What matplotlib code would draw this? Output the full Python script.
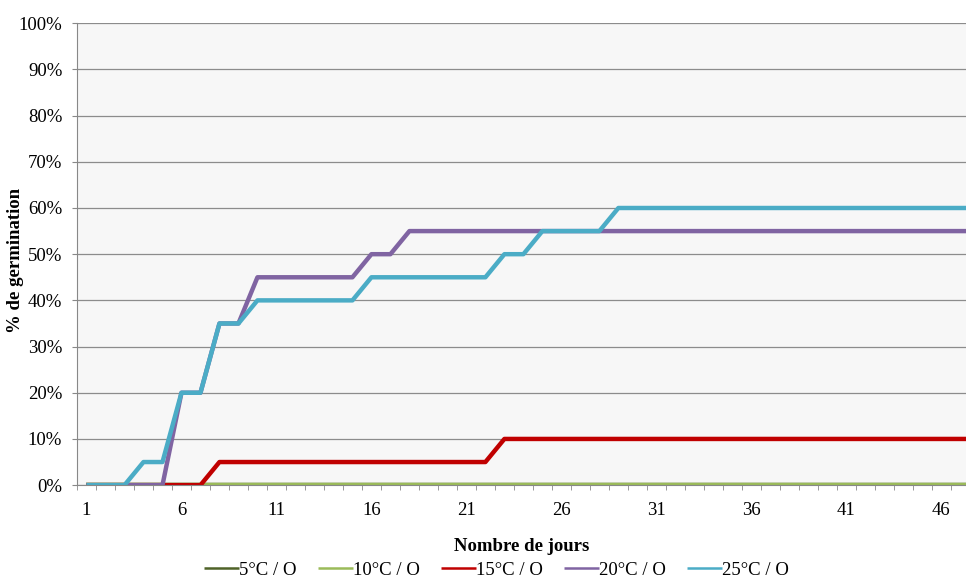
import numpy as np
import matplotlib.pyplot as plt
from matplotlib.ticker import FixedLocator, PercentFormatter

# days 1..48
days = list(range(1, 49))

g5 = [0] * 48
g10 = [0] * 48
g15 = [0, 0, 0, 0, 0, 0, 0, 5, 5, 5, 5, 5, 5, 5, 5, 5, 5, 5, 5, 5, 5, 5,
       10, 10, 10, 10, 10, 10, 10, 10, 10, 10, 10, 10, 10, 10, 10, 10, 10, 10,
       10, 10, 10, 10, 10, 10, 10, 10]
g20 = [0, 0, 0, 0, 0, 20, 20, 35, 35, 45, 45, 45, 45, 45, 45, 50, 50, 55, 55, 55,
       55, 55, 55, 55, 55, 55, 55, 55, 55, 55, 55, 55, 55, 55, 55, 55, 55, 55,
       55, 55, 55, 55, 55, 55, 55, 55, 55, 55]
g25 = [0, 0, 0, 5, 5, 20, 20, 35, 35, 40, 40, 40, 40, 40, 40, 45, 45, 45, 45, 45,
       45, 45, 50, 50, 55, 55, 55, 55, 60, 60, 60, 60, 60, 60, 60, 60, 60, 60,
       60, 60, 60, 60, 60, 60, 60, 60, 60, 60]

labels = ['5°C / O', '10°C / O', '15°C / O', '20°C / O', '25°C / O']
colors = ['#4f6228', '#9bbb59', '#c00000', '#8064a2', '#4bacc6']
series = [g5, g10, g15, g20, g25]

plt.rcParams['font.family'] = ['Liberation Serif', 'DejaVu Serif']

fig = plt.figure(figsize=(9.66, 5.81), dpi=100)
ax = fig.add_axes([0.0797, 0.165, 0.9203, 0.795])
ax.set_facecolor('#f7f7f7')

for s, c, l in zip(series, colors, labels):
    ax.plot(days, s, color=c, lw=3.2, label=l, solid_capstyle='butt')

ax.set_xlim(0.5, 47.3)
ax.set_ylim(0, 100)
ax.yaxis.set_major_locator(FixedLocator(np.arange(0, 101, 10)))
ax.yaxis.set_major_formatter(PercentFormatter(decimals=0))
ax.set_xticks(list(range(1, 48, 5)))
ax.xaxis.set_minor_locator(FixedLocator(np.arange(0.5, 48, 1)))
ax.tick_params(axis='x', which='major', length=0, pad=12, labelsize=13.5)
ax.tick_params(axis='x', which='minor', length=3.6, color='#888888', direction='out')
ax.tick_params(axis='y', length=3.6, color='#888888', labelsize=13.5, pad=7)

ax.grid(axis='y', color='#8c8c8c', lw=0.9)
ax.set_axisbelow(True)
for sp in ['top', 'right']:
    ax.spines[sp].set_visible(False)
for sp in ['left', 'bottom']:
    ax.spines[sp].set_color('#888888')

ax.set_xlabel('Nombre de jours', fontweight='bold', fontsize=13.5, labelpad=14)
fig.text(16 / 966, 1 - 260 / 581, '% de germination', rotation=90, ha='center',
         va='center', fontweight='bold', fontsize=13.5)

leg = fig.legend(loc='center', bbox_to_anchor=(0.514, 0.019), ncol=5, frameon=False,
                 fontsize=13.5, handlelength=1.85, handletextpad=0.0, columnspacing=1.15)
for h in leg.get_lines():
    h.set_linewidth(1.8)

fig.savefig('out.png', dpi=100)
